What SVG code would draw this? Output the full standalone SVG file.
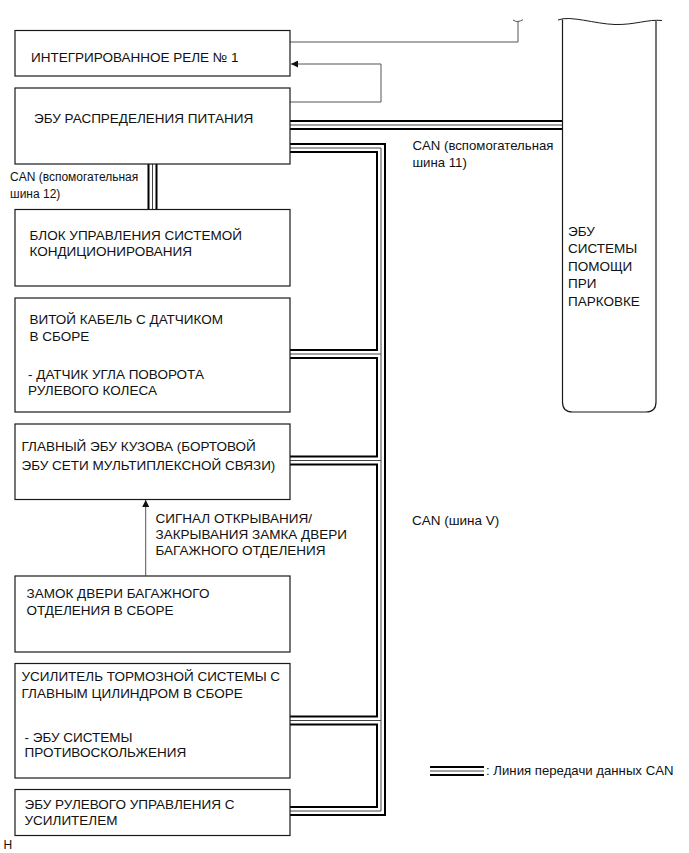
<svg xmlns="http://www.w3.org/2000/svg" width="689" height="853" viewBox="0 0 689 853">
<style>
  .box { fill: #fff; stroke: #1a1a1a; stroke-width: 1.2; }
  .t { font-family: "Liberation Sans", Arial, sans-serif; font-size: 13.5px; fill: #111; }
  .s { font-family: "Liberation Sans", Arial, sans-serif; font-size: 12px; fill: #111; }
  .m { font-family: "Liberation Sans", Arial, sans-serif; font-size: 13.2px; fill: #111; }
  .thin { fill: none; stroke: #555; stroke-width: 1; }
  .canB { fill: none; stroke: #000; stroke-width: 10; stroke-linejoin: miter; stroke-linecap: butt; }
  .canW { fill: none; stroke: #fff; stroke-width: 6; stroke-linejoin: miter; stroke-linecap: butt; }
  .canC { fill: none; stroke: #444; stroke-width: 1; stroke-linejoin: miter; stroke-linecap: butt; }
</style>
<defs>
  <marker id="ah" viewBox="0 0 10 10" refX="10" refY="5" markerWidth="9" markerHeight="7" markerUnits="userSpaceOnUse" orient="auto">
    <path d="M0,0 L10,5 L0,10 z" fill="#111"/>
  </marker>
</defs>

<g id="connectors">
  <!-- CAN data lines -->
  <g id="can-black">
    <path class="canB" d="M290,125 H562"/>
    <path class="canB" d="M152.5,164 V209"/>
    <path class="canB" d="M290,148 H381 V811 H290"/>
    <path class="canB" d="M290,354 H381"/>
    <path class="canB" d="M290,460.5 H381"/>
    <path class="canB" d="M290,720.5 H381"/>
    <path class="canB" d="M430,771 H484" stroke-width="8"/>
  </g>
  <g id="can-white">
    <path class="canW" d="M290,125 H562"/>
    <path class="canW" d="M152.5,164 V209"/>
    <path class="canW" d="M290,148 H381 V811 H290"/>
    <path class="canW" d="M290,354 H381"/>
    <path class="canW" d="M290,460.5 H381"/>
    <path class="canW" d="M290,720.5 H381"/>
    <path class="canW" d="M430,771 H484" stroke-width="4"/>
  </g>
  <g id="can-center">
    <path class="canC" d="M290,125 H562"/>
    <path class="canC" d="M152.5,164 V209"/>
    <path class="canC" d="M290,148 H381 V811 H290"/>
    <path class="canC" d="M290,354 H381"/>
    <path class="canC" d="M290,460.5 H381"/>
    <path class="canC" d="M290,720.5 H381"/>
    <path class="canC" d="M430,771 H484"/>
  </g>
  <!-- thin signal lines -->
  <path class="thin" d="M290,42 H518 V21"/>
  <path class="thin" d="M513,20 q2.5,1.8 5,1.5 q2.5,-0.3 5,-1.8"/>
  <path class="thin" d="M290,102 H381 V64 H291" marker-end="url(#ah)"/>
  <path class="thin" d="M145.7,575.7 V500" marker-end="url(#ah)"/>
</g>

<g id="node-relay">
  <rect class="box" x="15" y="30.5" width="275" height="45.5"/>
  <text class="t" x="31" y="61.5">ИНТЕГРИРОВАННОЕ РЕЛЕ № 1</text>
</g>
<g id="node-power-ecu">
  <rect class="box" x="15" y="88" width="275" height="76"/>
  <text class="t" x="34" y="123">ЭБУ РАСПРЕДЕЛЕНИЯ ПИТАНИЯ</text>
</g>
<g id="node-ac">
  <rect class="box" x="15" y="209.5" width="275" height="76.5"/>
  <text class="t" x="29.5" y="239.5">БЛОК УПРАВЛЕНИЯ СИСТЕМОЙ</text>
  <text class="t" x="29.5" y="256">КОНДИЦИОНИРОВАНИЯ</text>
</g>
<g id="node-spiral">
  <rect class="box" x="15" y="298" width="275" height="114"/>
  <text class="t" x="29.5" y="324">ВИТОЙ КАБЕЛЬ С ДАТЧИКОМ</text>
  <text class="t" x="29.5" y="340.5">В СБОРЕ</text>
  <text class="t" x="28" y="378.5">- ДАТЧИК УГЛА ПОВОРОТА</text>
  <text class="t" x="28" y="394.5">РУЛЕВОГО КОЛЕСА</text>
</g>
<g id="node-body-ecu">
  <rect class="box" x="15" y="424" width="275" height="75.5"/>
  <text class="t" x="21.5" y="451">ГЛАВНЫЙ ЭБУ КУЗОВА (БОРТОВОЙ</text>
  <text class="t" x="21.5" y="469.5">ЭБУ СЕТИ МУЛЬТИПЛЕКСНОЙ СВЯЗИ)</text>
</g>
<g id="label-signal">
  <text class="t" x="155.5" y="523">СИГНАЛ ОТКРЫВАНИЯ/</text>
  <text class="t" x="155.5" y="539">ЗАКРЫВАНИЯ ЗАМКА ДВЕРИ</text>
  <text class="t" x="155.5" y="554.5">БАГАЖНОГО ОТДЕЛЕНИЯ</text>
</g>
<g id="node-door-lock">
  <rect class="box" x="15" y="576" width="275" height="76"/>
  <text class="t" x="26.5" y="598">ЗАМОК ДВЕРИ БАГАЖНОГО</text>
  <text class="t" x="26.5" y="614.5">ОТДЕЛЕНИЯ В СБОРЕ</text>
</g>
<g id="node-brake">
  <rect class="box" x="15" y="663.5" width="275" height="114.5"/>
  <text class="t" x="21.5" y="681">УСИЛИТЕЛЬ ТОРМОЗНОЙ СИСТЕМЫ С</text>
  <text class="t" x="21.5" y="698">ГЛАВНЫМ ЦИЛИНДРОМ В СБОРЕ</text>
  <text class="t" x="24.5" y="742">- ЭБУ СИСТЕМЫ</text>
  <text class="t" x="24.5" y="757">ПРОТИВОСКОЛЬЖЕНИЯ</text>
</g>
<g id="node-eps">
  <rect class="box" x="15" y="789.5" width="275" height="46"/>
  <text class="t" x="24.5" y="809">ЭБУ РУЛЕВОГО УПРАВЛЕНИЯ С</text>
  <text class="t" x="24.5" y="824.5">УСИЛИТЕЛЕМ</text>
</g>
<g id="node-parking">
  <path fill="#fff" stroke="#1a1a1a" stroke-width="1.2" d="M562.5,19.5 V402 Q562.5,412 572.5,412 H646 Q656,412 656,402 V21"/>
  <path fill="none" stroke="#1a1a1a" stroke-width="1" d="M558,20 C570,15 595,24 615,24.5 C635,25 648,19 662,20.5"/>
  <text class="t" x="568" y="235.5">ЭБУ</text>
  <text class="t" x="568" y="253">СИСТЕМЫ</text>
  <text class="t" x="568" y="270.5">ПОМОЩИ</text>
  <text class="t" x="568" y="288">ПРИ</text>
  <text class="t" x="568" y="305.5">ПАРКОВКЕ</text>
</g>
<g id="labels">
  <text class="s" x="10" y="181">CAN (вспомогательная</text>
  <text class="s" x="10" y="197.5">шина 12)</text>
  <text class="m" x="412.5" y="150">CAN (вспомогательная</text>
  <text class="m" x="412.5" y="166.5">шина 11)</text>
  <text class="t" x="412" y="525">CAN (шина V)</text>
  <text class="m" x="486" y="775">: Линия передачи данных CAN</text>
  <text class="s" x="3.5" y="848.5">Н</text>
</g>
</svg>
